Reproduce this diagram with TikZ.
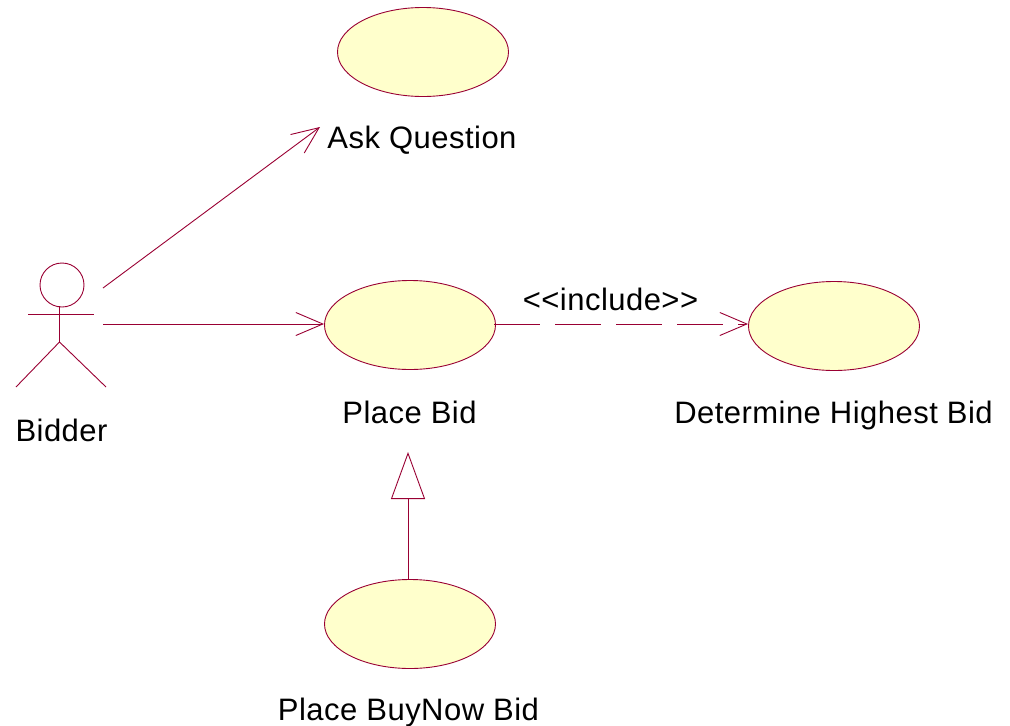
\documentclass[tikz,border=0pt]{standalone}
\usepackage{fontspec}
\setmainfont[LetterSpace=1.5]{Liberation Sans}
\definecolor{umlline}{RGB}{153,0,51}
\definecolor{umlfill}{RGB}{255,255,204}
\usetikzlibrary{shapes.geometric,arrows.meta}
\tikzset{
 x=1pt,y=-1pt,
 usecase/.style={ellipse,draw=umlline,fill=umlfill,line width=0.9pt,minimum width=171pt,minimum height=89pt,inner sep=0pt},
 lbl/.style={font=\fontsize{31}{35}\selectfont,text=black,inner sep=0pt,anchor=base},
 conn/.style={draw=umlline,line width=0.9pt},
 open/.style={conn,-{Straight Barb[length=27pt,width=23pt,line width=0.9pt]}},
 depend/.style={open,dash pattern=on 46pt off 15pt},
 gener/.style={conn,-{Triangle[open,length=47pt,width=34pt,line width=0.9pt,fill=white]}},
 actorline/.style={draw=umlline,line width=0.9pt}
}
\begin{document}
\begin{tikzpicture}
\useasboundingbox (0,0) rectangle (1010,726);
\node[usecase] (ask) at (423,52) {};
\node[usecase] (place) at (410,325) {};
\node[usecase] (high) at (834,326) {};
\node[usecase] (buy) at (410,624) {};
\node[lbl] (asklbl) at (422,148) {Ask Question};
\node[lbl] (placelbl) at (409.5,423) {Place Bid};
\node[lbl] (highlbl) at (833.5,423) {Determine Highest Bid};
\node[lbl] (buylbl) at (408.5,720) {Place BuyNow Bid};
\node[lbl] (bidderlbl) at (61.5,441) {Bidder};
\node[lbl] (inc) at (610.5,310) {<{}<include>{}>};
\node[circle,draw=umlline,line width=0.9pt,minimum size=44pt,inner sep=0pt] (head) at (62,285) {};
\coordinate (neck) at (59.5,306);
\coordinate (arml) at (28,314);
\coordinate (armr) at (94,314);
\coordinate (hip) at (59.5,342);
\coordinate (footl) at (16,387);
\coordinate (footr) at (106,387);
\draw[actorline] (neck) -- (hip);
\draw[actorline] (arml) -- (armr);
\draw[actorline] (footl) -- (hip) -- (footr);
\coordinate (a1) at (103,288);
\coordinate (a2) at (103,324);
\coordinate (t1) at (320,127);
\coordinate (t2) at (324,324);
\coordinate (d1) at (494,324);
\coordinate (d2) at (748,324);
\draw[open] (a1) -- (t1);
\draw[open] (a2) -- (t2);
\draw[depend] (d1) -- (d2);
\coordinate (gtip) at (408,452);
\draw[gener] (gtip |- buy.north) -- (gtip);
\end{tikzpicture}
\end{document}
